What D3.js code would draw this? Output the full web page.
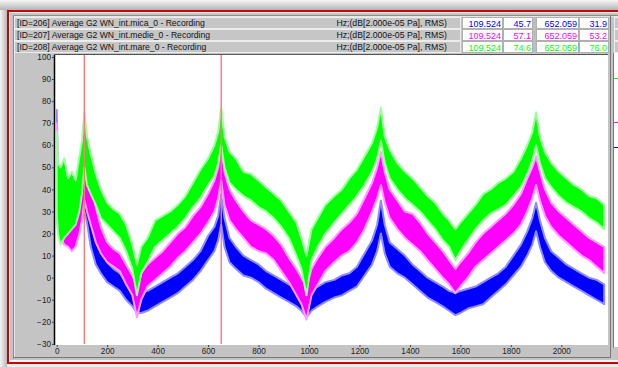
<!DOCTYPE html>
<html>
<head>
<meta charset="utf-8">
<script src="https://cdn.jsdelivr.net/npm/d3@7"></script>
<style>
  html, body { margin: 0; padding: 0; background: #fff; }
  svg { display: block; font-family: "Liberation Sans", Arial, sans-serif; }
</style>
</head>
<body>
<svg id="chart" width="618" height="367"></svg>
<script>
// frequency grid (Hz) the envelopes were read at
const freq = [0, 5, 15, 30, 45, 60, 75, 90, 100, 110, 120, 135, 155, 175, 200, 225, 250, 275, 300, 318,
  335, 360, 390, 420, 450, 480, 510, 540, 570, 600, 625, 640, 652, 665, 685, 710, 740, 770, 800, 830,
  860, 890, 920, 950, 970, 990, 1010, 1035, 1065, 1100, 1130, 1160, 1190, 1220, 1250, 1270, 1285, 1300, 1320, 1350,
  1380, 1410, 1440, 1470, 1500, 1530, 1555, 1580, 1600, 1630, 1660, 1690, 1720, 1750, 1780, 1810, 1840, 1865, 1885, 1900,
  1915, 1935, 1960, 1990, 2020, 2050, 2080, 2110, 2140, 2170];

// ID=206 mica (blue), lower / upper edge of the noisy band, dB
const micaLo = [30, 22, 18, 15, 17, 18, 18, 22, 26, 30, 25, 14, 6, 2, -2, -4, -6, -10, -13, -16,
  -16, -15, -13, -11, -9, -7, -4, -1, 3, 8, 12, 17, 24, 14, 7, 4, 1, 0, -2, -5,
  -7, -9, -11, -13, -15, -18, -15, -13, -11, -9, -8, -6, -4, 1, 6, 12, 20, 11, 5, 2,
  0, -3, -6, -9, -11, -13, -15, -17, -16, -14, -13, -12, -9, -6, -3, 1, 5, 10, 15, 21,
  14, 7, 3, 0, -2, -4, -6, -8, -10, -12];
const micaHi = [76, 50, 46, 42, 40, 38, 40, 42, 44, 47, 42, 29, 20, 14, 7, 4, 2, -2, -5, -7,
  -7, -6, -4, -2, 0, 2, 5, 8, 12, 19, 23, 28, 38, 27, 18, 14, 10, 8, 6, 3,
  1, -1, -3, -5, -7, -8, -6, -4, -2, -1, 1, 2, 5, 11, 17, 24, 35, 24, 16, 13,
  10, 6, 3, 0, -2, -4, -6, -7, -6, -5, -4, -2, 0, 2, 5, 10, 15, 21, 27, 34,
  26, 18, 12, 9, 6, 4, 2, 0, -1, -3];

// ID=207 medie (magenta)
const medieLo = [35, 25, 18, 15, 14, 12, 14, 20, 26, 35, 30, 24, 16, 11, 7, 5, 3, -3, -8, -18,
  -10, -4, -1, 2, 5, 9, 12, 16, 20, 25, 30, 36, 44, 33, 26, 22, 18, 14, 12, 11,
  8, 3, -2, -8, -12, -19, -8, -3, 3, 7, 10, 12, 16, 22, 30, 36, 42, 34, 27, 22,
  18, 15, 12, 8, 4, 0, -3, -7, -4, 0, 5, 8, 11, 14, 17, 20, 24, 30, 36, 42,
  35, 28, 23, 19, 16, 13, 10, 8, 5, 2];
const medieHi = [70, 48, 45, 40, 38, 34, 35, 42, 48, 57, 50, 43, 32, 23, 16, 13, 11, 6, 1, -4,
  2, 6, 9, 12, 16, 20, 23, 28, 32, 38, 44, 50, 60, 48, 40, 35, 30, 26, 24, 22,
  19, 15, 9, 4, 0, -4, 4, 9, 14, 18, 22, 25, 29, 36, 43, 50, 57, 48, 40, 35,
  30, 29, 25, 20, 16, 12, 8, 4, 7, 11, 16, 20, 23, 26, 29, 33, 38, 45, 50, 55,
  48, 40, 34, 30, 27, 24, 21, 18, 16, 14];

// ID=208 mare (green)
const mareLo = [30, 20, 15, 18, 20, 22, 24, 30, 38, 50, 42, 38, 33, 27, 24, 21, 18, 12, 4, -8,
  2, 7, 14, 17, 20, 23, 27, 32, 36, 42, 46, 52, 60, 50, 43, 40, 37, 35, 32, 30,
  27, 23, 18, 10, 4, -8, 8, 14, 20, 25, 29, 33, 37, 42, 48, 54, 62, 52, 45, 40,
  36, 33, 30, 26, 22, 17, 14, 8, 12, 17, 22, 26, 29, 31, 33, 37, 41, 47, 53, 60,
  52, 45, 41, 37, 34, 32, 30, 27, 25, 22];
const mareHi = [66, 52, 50, 54, 45, 48, 44, 55, 62, 75, 64, 56, 47, 40, 34, 31, 29, 24, 15, 6,
  14, 18, 26, 28, 30, 33, 37, 43, 49, 54, 60, 66, 77, 64, 57, 54, 48, 47, 44, 41,
  38, 35, 30, 25, 18, 10, 22, 27, 33, 37, 40, 45, 49, 55, 61, 68, 77, 64, 58, 52,
  48, 45, 41, 37, 34, 29, 26, 22, 25, 29, 33, 38, 40, 43, 45, 48, 54, 60, 66, 75,
  64, 57, 52, 48, 45, 42, 40, 37, 36, 33];

const seriesNames = [
  "[ID=206] Average G2 WN_int.mica_0 - Recording",
  "[ID=207] Average G2 WN_int.medie_0 - Recording",
  "[ID=208] Average G2 WN_int.mare_0 - Recording"
];
const seriesColors = ["#0000ff", "#ff00ff", "#00ff00"];
const seriesLight = ["#8c8cff", "#ff9cff", "#9cff9c"];
const unitsLabel = "Hz;(dB[2.000e-05 Pa], RMS)";
const cursorFreq = [109.524, 652.059];
const cursorLevels = [[45.7, 31.9], [57.1, 53.2], [74.6, 76.0]];
const yTicks = [-30, -20, -10, 0, 10, 20, 30, 40, 50, 60, 70, 80, 90, 100];
const xTicks = [0, 200, 400, 600, 800, 1000, 1200, 1400, 1600, 1800, 2000];

const W = 618, H = 367;
const plot = { left: 55, right: 608, top: 55, bottom: 345 };

const svg = d3.select("#chart");
const defs = svg.append("defs");

// window chrome
const gTop = defs.append("linearGradient").attr("id", "shadeTop").attr("x1", 0).attr("y1", 0).attr("x2", 0).attr("y2", 1);
gTop.append("stop").attr("offset", "0%").attr("stop-color", "#f6f6f6");
gTop.append("stop").attr("offset", "100%").attr("stop-color", "#b4b4b4");
const gLeft = defs.append("linearGradient").attr("id", "shadeLeft").attr("x1", 0).attr("y1", 0).attr("x2", 1).attr("y2", 0);
gLeft.append("stop").attr("offset", "0%").attr("stop-color", "#f4f4f4");
gLeft.append("stop").attr("offset", "100%").attr("stop-color", "#b8b8b8");

svg.append("rect").attr("width", W).attr("height", H).attr("fill", "#ececec");
svg.append("rect").attr("width", W).attr("height", 10).attr("fill", "url(#shadeTop)");
svg.append("rect").attr("y", 10).attr("width", 7).attr("height", H - 10).attr("fill", "url(#shadeLeft)");

svg.append("rect").attr("x", 7).attr("y", 10).attr("width", 700).attr("height", 354).attr("fill", "#cc0000");
svg.append("rect").attr("x", 9).attr("y", 12).attr("width", 700).attr("height", 350).attr("fill", "#f4f4f4");
svg.append("rect").attr("x", 10).attr("y", 13).attr("width", 700).attr("height", 347).attr("fill", "#c4c4c4");

// panel edges
svg.append("path").attr("d", "M13.5,358.5V15.5H700").attr("fill", "none").attr("stroke", "#8a8a8a");
svg.append("path").attr("d", "M14.5,357.5V16.5H700").attr("fill", "none").attr("stroke", "#e6e6e6");
svg.append("path").attr("d", "M13,357.5H610.5V15").attr("fill", "none").attr("stroke", "#777");
svg.append("path").attr("d", "M613.5,53V347.5").attr("fill", "none").attr("stroke", "#777");

// header rows
const rowTop = i => 17 + i * 12;
const rows = svg.append("g");
seriesNames.forEach((name, i) => {
  const t = rowTop(i);
  rows.append("rect").attr("x", 14.5).attr("y", t + 0.5).attr("width", 446).attr("height", 11)
    .attr("fill", "#c6c6c6").attr("stroke", "#ececec");
  rows.append("text").attr("x", 17).attr("y", t + 9).attr("font-size", 8.6).attr("fill", "#111").text(name);
  rows.append("text").attr("x", 447).attr("y", t + 9).attr("font-size", 8.7).attr("fill", "#111")
    .attr("text-anchor", "end").text(unitsLabel);

  const boxes = [
    { x: 462, w: 40, v: d3.format(".3f")(cursorFreq[0]) },
    { x: 503, w: 29, v: d3.format(".1f")(cursorLevels[i][0]) },
    { x: 536, w: 42, v: d3.format(".3f")(cursorFreq[1]) },
    { x: 579, w: 29, v: d3.format(".1f")(cursorLevels[i][1]) }
  ];
  rows.append("rect").attr("x", 532).attr("y", t).attr("width", 4).attr("height", 12).attr("fill", "#bdbdbd");
  boxes.forEach(b => {
    rows.append("rect").attr("x", b.x + 0.5).attr("y", t + 0.5).attr("width", b.w).attr("height", 11)
      .attr("fill", "#fff").attr("stroke", "#b0b0b0");
    rows.append("text").attr("x", b.x + b.w - 1).attr("y", t + 9.5).attr("font-size", 9)
      .attr("text-anchor", "end").attr("fill", seriesColors[i]).text(b.v);
  });
  rows.append("rect").attr("x", 614.5).attr("y", t + 0.5).attr("width", 10).attr("height", 11)
    .attr("fill", "#c6c6c6").attr("stroke", "#ececec");
});

// side level strip
svg.append("rect").attr("x", 614).attr("y", 53).attr("width", 10).attr("height", 294).attr("fill", "#fff");
const stripY = [147, 122, 78];
seriesColors.forEach((c, i) => {
  svg.append("line").attr("x1", 614).attr("x2", 618).attr("y1", stripY[i] + 0.5).attr("y2", stripY[i] + 0.5)
    .attr("stroke", c);
});

// plot area
svg.append("rect").attr("x", plot.left).attr("y", plot.top).attr("width", plot.right - plot.left)
  .attr("height", plot.bottom - plot.top).attr("fill", "#fff");
svg.append("path").attr("d", `M${plot.left - 0.5},${plot.bottom}V${plot.top - 0.5}H${plot.right}`)
  .attr("fill", "none").attr("stroke", "#555");
svg.append("line").attr("x1", plot.left - 0.5).attr("x2", plot.left - 0.5).attr("y1", plot.top).attr("y2", plot.bottom)
  .attr("stroke", "#000").attr("stroke-width", 1.5);

defs.append("clipPath").attr("id", "clipPlot").append("rect")
  .attr("x", plot.left).attr("y", plot.top).attr("width", plot.right - plot.left).attr("height", plot.bottom - plot.top);

const x = d3.scaleLinear().domain([-6.7, 2185]).range([plot.left, plot.right]);
const y = d3.scaleLinear().domain([-30.5, 100.9]).range([plot.bottom, plot.top]);

// axes
const axisFont = g => g.selectAll("text").attr("font-size", 8.2).attr("fill", "#222")
  .attr("font-family", "'Liberation Sans', Arial, sans-serif");

const yAxis = svg.append("g").attr("transform", `translate(${plot.left - 1},0)`)
  .call(d3.axisLeft(y).tickValues(yTicks).tickSize(2).tickPadding(1).tickFormat(d3.format("d")));
yAxis.select(".domain").remove();
yAxis.selectAll("line").attr("stroke", "#444");
yAxis.call(axisFont);

const xAxis = svg.append("g").attr("transform", `translate(0,${plot.bottom})`)
  .call(d3.axisBottom(x).tickValues(xTicks).tickSize(2).tickPadding(1).tickFormat(d3.format("d")));
xAxis.select(".domain").remove();
xAxis.selectAll("line").attr("stroke", "#444");
xAxis.call(axisFont);

// series bands
const plotG = svg.append("g").attr("clip-path", "url(#clipPlot)");
const bands = [[micaLo, micaHi], [medieLo, medieHi], [mareLo, mareHi]];
const area = d3.area().x(d => x(d.f)).y0(d => y(d.lo)).y1(d => y(d.hi));

bands.forEach(([lo, hi], i) => {
  const pts = freq.map((f, k) => ({ f: f, lo: lo[k], hi: hi[k] }));
  plotG.append("path").datum(pts).attr("d", area)
    .attr("fill", seriesColors[i]).attr("stroke", seriesLight[i]).attr("stroke-width", 2)
    .attr("stroke-linejoin", "round");
});

// cursors
cursorFreq.forEach(f => {
  plotG.append("line").attr("x1", x(f)).attr("x2", x(f)).attr("y1", plot.top).attr("y2", plot.bottom - 1)
    .attr("stroke", "#ff7878").attr("stroke-width", 1.4);
});
</script>
</body>
</html>
